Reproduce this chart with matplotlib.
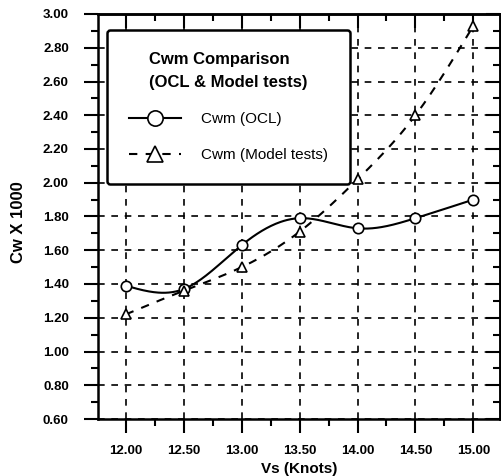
import numpy as np
import matplotlib
matplotlib.use("Agg")
import matplotlib.pyplot as plt
from matplotlib.ticker import MultipleLocator, FormatStrFormatter, NullFormatter

speed = [12.0, 12.5, 13.0, 13.5, 14.0, 14.5, 15.0]
cwm_ocl = [1.39, 1.37, 1.63, 1.79, 1.73, 1.79, 1.90]
cwm_model = [1.22, 1.36, 1.50, 1.71, 2.02, 2.40, 2.93]


def natural_spline(x, y, xs):
    x = np.asarray(x, float); y = np.asarray(y, float)
    n = len(x)
    h = np.diff(x)
    A = np.zeros((n, n)); b = np.zeros(n)
    A[0, 0] = 1; A[-1, -1] = 1
    for i in range(1, n - 1):
        A[i, i - 1] = h[i - 1]
        A[i, i] = 2 * (h[i - 1] + h[i])
        A[i, i + 1] = h[i]
        b[i] = 3 * ((y[i + 1] - y[i]) / h[i] - (y[i] - y[i - 1]) / h[i - 1])
    c = np.linalg.solve(A, b)
    out = np.empty_like(xs)
    for k, xv in enumerate(xs):
        i = min(max(np.searchsorted(x, xv) - 1, 0), n - 2)
        dx = xv - x[i]
        bi = (y[i + 1] - y[i]) / h[i] - h[i] * (2 * c[i] + c[i + 1]) / 3
        di = (c[i + 1] - c[i]) / (3 * h[i])
        out[k] = y[i] + bi * dx + c[i] * dx ** 2 + di * dx ** 3
    return out


plt.rcParams['font.family'] = ['Liberation Sans', 'DejaVu Sans']
fig = plt.figure(figsize=(5.02, 4.76), dpi=100)
ax = fig.add_axes([98 / 502, 1 - 419 / 476, 402 / 502, 405 / 476])

xs = np.linspace(speed[0], speed[-1], 300)
ax.plot(xs, natural_spline(speed, cwm_ocl, xs), color='black', lw=1.5, zorder=3)
ax.plot(speed, cwm_ocl, 'o', ms=7.5, mfc='white', mec='black', mew=1.2, zorder=4)
ax.plot(xs, natural_spline(speed, cwm_model, xs), color='black', lw=1.5,
        ls=(0, (4, 4)), zorder=3)
ax.plot(speed, cwm_model, '^', ms=7.5, mfc='white', mec='black', mew=1.2, zorder=4)

# legend proxies
l1, = ax.plot([], [], color='black', lw=1.5, marker='o', ms=11, mfc='white',
              mec='black', mew=1.2)
l2, = ax.plot([], [], color='black', lw=1.5, ls=(0, (4, 4)), marker='^', ms=11,
              mfc='white', mec='black', mew=1.2)

ax.set_xlim(11.76, 15.23)
ax.set_ylim(0.60, 3.00)
ax.xaxis.set_major_locator(MultipleLocator(0.5))
ax.xaxis.set_minor_locator(MultipleLocator(0.25))
ax.yaxis.set_major_locator(MultipleLocator(0.2))
ax.yaxis.set_minor_locator(MultipleLocator(0.1))
ax.xaxis.set_major_formatter(FormatStrFormatter('%.2f'))
ax.yaxis.set_major_formatter(FormatStrFormatter('%.2f'))
ax.set_xticks([12.0, 12.5, 13.0, 13.5, 14.0, 14.5, 15.0])
ax.tick_params(axis='both', which='major', direction='out', length=10, width=1.5,
               labelsize=9.5)
ax.tick_params(axis='both', which='minor', direction='out', length=5, width=1.5)
ax.tick_params(axis='y', which='major', pad=11)
ax.tick_params(axis='x', which='major', pad=9)
for s in ax.spines.values():
    s.set_linewidth(1.8)
ax.grid(True, which='major', color='black', ls=(0, (4, 4)), lw=1.2)
ax.set_axisbelow(True)

for lab in ax.get_xticklabels() + ax.get_yticklabels():
    lab.set_fontweight('bold')

# inward ticks on top and right
top = ax.secondary_xaxis('top')
top.xaxis.set_major_locator(MultipleLocator(0.5))
top.xaxis.set_minor_locator(MultipleLocator(0.25))
top.xaxis.set_major_formatter(NullFormatter())
top.tick_params(which='major', direction='in', length=10, width=1.5)
top.tick_params(which='minor', direction='in', length=5, width=1.5)
top.spines['top'].set_linewidth(1.8)
right = ax.secondary_yaxis('right')
right.yaxis.set_major_locator(MultipleLocator(0.2))
right.yaxis.set_minor_locator(MultipleLocator(0.1))
right.yaxis.set_major_formatter(NullFormatter())
right.tick_params(which='major', direction='in', length=10, width=1.5)
right.tick_params(which='minor', direction='in', length=5, width=1.5)
right.spines['right'].set_linewidth(1.8)

ax.set_xlabel('Vs (Knots)', fontsize=11, fontweight='bold', labelpad=3)
ax.set_ylabel('Cw X 1000', fontsize=12, fontweight='bold')
ax.yaxis.set_label_coords(-0.18, 0.486)

leg = ax.legend([l1, l2], ['Cwm (OCL)', 'Cwm (Model tests)'],
                title='Cwm Comparison\n(OCL & Model tests)',
                loc='upper left', bbox_to_anchor=(9 / 402, 1 - 16 / 405),
                fontsize=11, title_fontproperties={'weight': 'bold', 'size': 12},
                frameon=True, fancybox=True, framealpha=1, edgecolor='black',
                handlelength=3.4, handletextpad=1.3, labelspacing=1.45,
                borderpad=1.45, borderaxespad=0)
leg.get_title().set_linespacing(1.65)
leg.get_frame().set_linewidth(1.8)
leg.set_zorder(10)

fig.savefig('out.png', dpi=100)
